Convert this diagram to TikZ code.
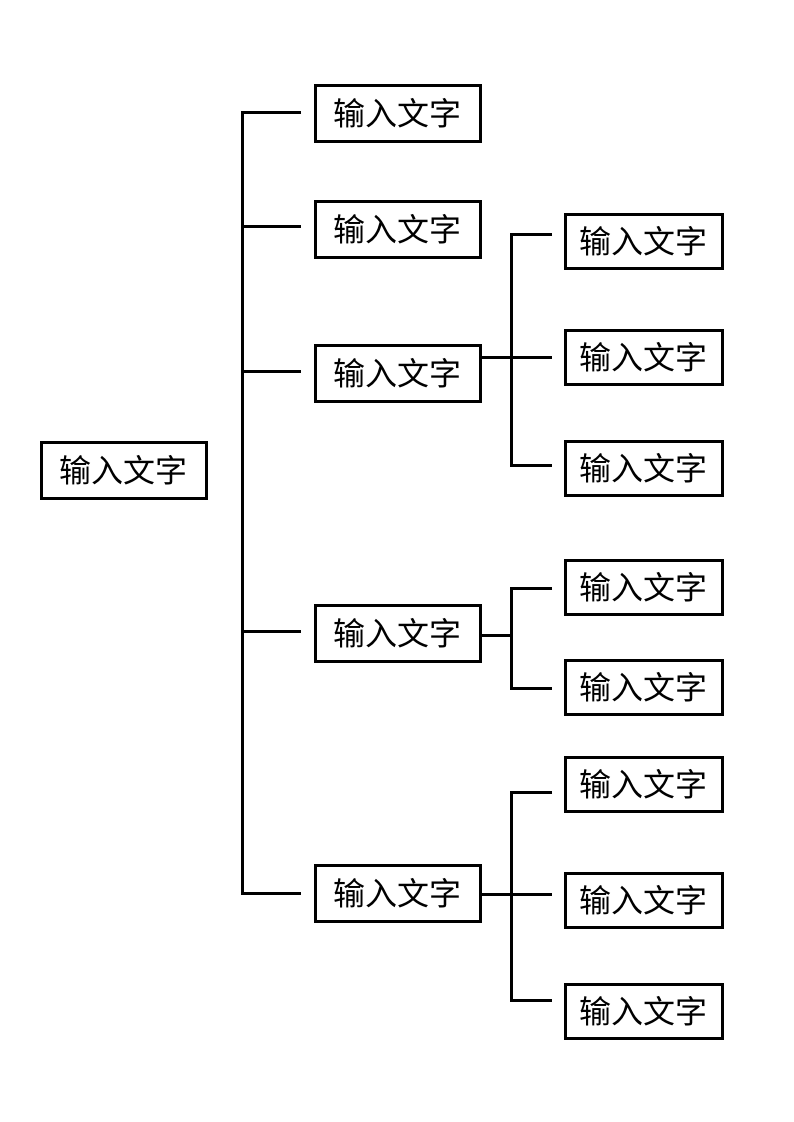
\documentclass[tikz,border=0pt]{standalone}
\usepackage{fontspec}
\newfontfamily\cjk{Noto Sans CJK SC}
\begin{document}
\begin{tikzpicture}[x=1pt,y=-1pt,
  box/.style={draw=black, line width=3pt, minimum width=165pt, minimum height=56pt, inner sep=0pt, font=\cjk\fontsize{32}{32}\selectfont},
  box2/.style={box, minimum width=157pt, minimum height=54pt},
  conn/.style={draw=black, line width=3pt}]
\useasboundingbox (0,0) rectangle (793,1122);
\fill[white] (0,0) rectangle (793,1122);
% root
\node[box] (root) at (123.5,470.5) {输入文字};
% level 1
\node[box] (a1) at (397.5,113.5) {输入文字};
\node[box] (a2) at (397.5,229.5) {输入文字};
\node[box] (a3) at (397.5,373.5) {输入文字};
\node[box] (a4) at (397.5,633.5) {输入文字};
\node[box] (a5) at (397.5,893.5) {输入文字};
% level 2
\node[box2] (b1) at (643.5,241.5) {输入文字};
\node[box2] (b2) at (643.5,357.5) {输入文字};
\node[box2] (b3) at (643.5,468) {输入文字};
\node[box2] (c1) at (643.5,587) {输入文字};
\node[box2] (c2) at (643.5,687) {输入文字};
\node[box2] (d1) at (643.5,784) {输入文字};
\node[box2] (d2) at (643.5,900) {输入文字};
\node[box2] (d3) at (643.5,1011) {输入文字};
% main bus
\coordinate (m1) at (242,112);
\coordinate (m2) at (242,226);
\coordinate (m3) at (242,371);
\coordinate (m4) at (242,631);
\coordinate (m5) at (242,893);
\coordinate (e1) at (301,112);
\coordinate (e2) at (301,226);
\coordinate (e3) at (301,371);
\coordinate (e4) at (301,631);
\coordinate (e5) at (301,893);
\draw[conn] (e1) -- (m1) -- (m5) -- (e5);
\draw[conn] (m2) -- (e2);
\draw[conn] (m3) -- (e3);
\draw[conn] (m4) -- (e4);
% group A
\coordinate (pA) at (a3.east |- 0,357);
\coordinate (fA1) at (552,234);
\coordinate (fA2) at (552,357);
\coordinate (fA3) at (552,465);
\coordinate (vA1) at (511,234);
\coordinate (vA3) at (511,465);
\draw[conn] (fA1) -- (vA1) -- (vA3) -- (fA3);
\draw[conn] (pA) -- (fA2);
% group B
\coordinate (pB) at (a4.east |- 0,635);
\coordinate (qB) at (513,635);
\coordinate (fB1) at (552,588);
\coordinate (fB2) at (552,688);
\coordinate (vB1) at (511,588);
\coordinate (vB2) at (511,688);
\draw[conn] (fB1) -- (vB1) -- (vB2) -- (fB2);
\draw[conn] (pB) -- (qB);
% group C
\coordinate (pC) at (a5.east |- 0,894);
\coordinate (fC1) at (552,792);
\coordinate (fC2) at (552,894);
\coordinate (fC3) at (552,1000);
\coordinate (vC1) at (511,792);
\coordinate (vC3) at (511,1000);
\draw[conn] (fC1) -- (vC1) -- (vC3) -- (fC3);
\draw[conn] (pC) -- (fC2);
\end{tikzpicture}
\end{document}
